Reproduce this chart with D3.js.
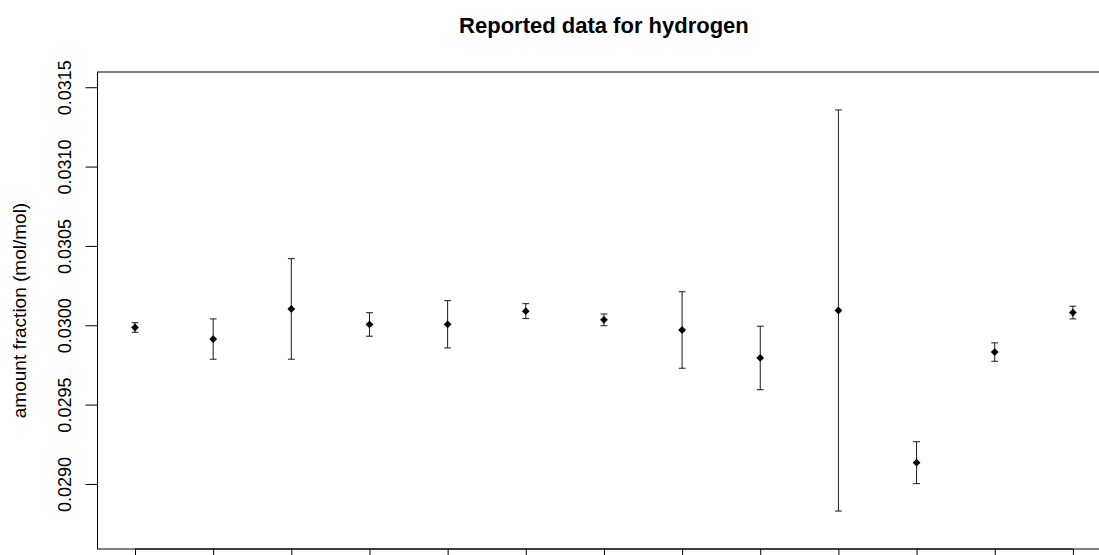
<!DOCTYPE html>
<html>
<head>
<meta charset="utf-8">
<script src="https://cdn.jsdelivr.net/npm/d3@7"></script>
<style>
  html, body { margin: 0; padding: 0; background: #fff; }
  svg { display: block; }
  text { font-family: "Liberation Sans", Arial, sans-serif; fill: #000; }
</style>
</head>
<body>
<svg id="chart" width="1099" height="555"></svg>
<script>
// ---- data ----
const labIndex = [1, 2, 3, 4, 5, 6, 7, 8, 9, 10, 11, 12, 13];
const values = [0.029986, 0.029913, 0.030103, 0.030005, 0.030006, 0.030089, 0.030034,
                0.029970, 0.029794, 0.030093, 0.029134, 0.029831, 0.030080];
const uncertainties = [0.000030, 0.000127, 0.000317, 0.000074, 0.000149, 0.000047, 0.000037,
                       0.000241, 0.000200, 0.001264, 0.000132, 0.000058, 0.000040];
const yTicks = [0.0290, 0.0295, 0.0300, 0.0305, 0.0310, 0.0315];
const titleText = "Reported data for hydrogen";
const yLabelText = "amount fraction (mol/mol)";

// ---- layout ----
const svg = d3.select("#chart");
const mLeft = 97.5, mRight = 1110.4, mTop = 72, mBottom = 549;

const x = d3.scaleLinear().domain([0.52, 13.48]).range([mLeft, mRight]);
const y = d3.scaleLinear().domain([0.02859, 0.031596]).range([mBottom, mTop]);

// box
svg.append("rect")
  .attr("x", mLeft).attr("y", mTop)
  .attr("width", mRight - mLeft).attr("height", mBottom - mTop)
  .attr("fill", "none").attr("stroke", "#000").attr("stroke-width", 1);

// y axis
const yAxis = d3.axisLeft(y).tickValues(yTicks).tickFormat(d3.format(".4f"))
  .tickSize(12).tickPadding(0);
const gy = svg.append("g").attr("transform", `translate(${mLeft},0)`).call(yAxis);
gy.select(".domain").attr("d", `M0,${y(yTicks[0])}V${y(yTicks[yTicks.length-1])}`)
  .attr("stroke", "#000");
gy.selectAll(".tick line").attr("stroke", "#000");
gy.selectAll(".tick text")
  .attr("font-size", 18)
  .attr("font-family", '"Liberation Sans", Arial, sans-serif')
  .attr("x", 0).attr("y", 0).attr("dy", null)
  .attr("text-anchor", "middle")
  .attr("transform", "translate(-26.5,0) rotate(-90)");

// x axis (tick marks only; the labels lie below the visible area)
const xAxis = d3.axisBottom(x).tickValues(labIndex).tickSize(12).tickFormat("");
const gx = svg.append("g").attr("transform", `translate(0,${mBottom})`).call(xAxis);
gx.select(".domain").attr("d", `M${x(1)},0H${x(13)}`).attr("stroke", "#000");
gx.selectAll(".tick line").attr("stroke", "#000");
gx.selectAll(".tick text").remove();

// error bars
const cap = 3.4;
const eb = svg.append("g").attr("stroke", "#1a1a1a").attr("stroke-width", 1).attr("fill", "none");
labIndex.forEach((k, i) => {
  const lo = y(values[i] - uncertainties[i]);
  const hi = y(values[i] + uncertainties[i]);
  const cx = x(k);
  eb.append("path").attr("d",
    `M${cx},${lo}V${hi}M${cx - cap},${hi}H${cx + cap}M${cx - cap},${lo}H${cx + cap}`);
});

// points (filled diamonds)
const r = 3.9;
svg.append("g").selectAll("path.pt").data(labIndex).join("path")
  .attr("class", "pt")
  .attr("d", (k, i) => {
    const cx = x(k), cy = y(values[i]);
    return `M${cx},${cy - r}L${cx + r},${cy}L${cx},${cy + r}L${cx - r},${cy}Z`;
  })
  .attr("fill", "#000");

// title
svg.append("text")
  .attr("x", (mLeft + mRight) / 2).attr("y", 32.5)
  .attr("text-anchor", "middle")
  .attr("font-size", 22).attr("font-weight", "bold")
  .text(titleText);

// y label
svg.append("text")
  .attr("transform", `translate(26,${(mTop + mBottom) / 2}) rotate(-90)`)
  .attr("text-anchor", "middle")
  .attr("font-size", 19)
  .text(yLabelText);
</script>
</body>
</html>
